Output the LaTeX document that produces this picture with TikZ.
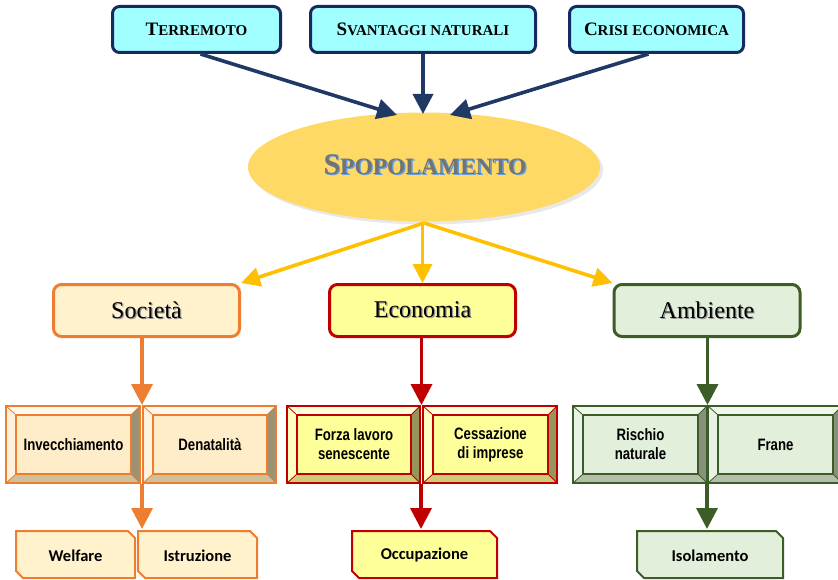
\documentclass[tikz,border=0pt]{standalone}
\usepackage{fontspec}
\setmainfont{Liberation Serif}
\newfontfamily\nbfont[FakeStretch=0.8]{Liberation Sans}
\newfontfamily\calfont{Carlito}
\usetikzlibrary{arrows.meta,shadows,shapes.geometric}

\definecolor{navyB}{RGB}{22,42,95}
\definecolor{navyA}{RGB}{31,56,100}
\definecolor{cyanF}{RGB}{162,255,255}
\definecolor{ellF}{RGB}{255,217,102}
\definecolor{yelA}{RGB}{255,192,0}
\definecolor{spopGray}{RGB}{115,115,115}
\definecolor{spopBlue}{RGB}{100,160,225}
\definecolor{shGray}{RGB}{150,150,150}
% orange set
\definecolor{Oline}{RGB}{237,125,49}
\definecolor{Ocat}{RGB}{255,242,204}
\definecolor{Oin}{RGB}{255,236,200}
\definecolor{Otop}{RGB}{255,248,236}
\definecolor{Oleft}{RGB}{255,243,222}
\definecolor{Oright}{RGB}{157,145,115}
\definecolor{Obot}{RGB}{205,193,155}
% red set
\definecolor{Rline}{RGB}{192,0,0}
\definecolor{Rcat}{RGB}{255,255,153}
\definecolor{Rin}{RGB}{255,255,153}
\definecolor{Rtop}{RGB}{255,255,215}
\definecolor{Rleft}{RGB}{255,255,195}
\definecolor{Rright}{RGB}{150,150,90}
\definecolor{Rbot}{RGB}{205,205,120}
% green set
\definecolor{Gline}{RGB}{60,92,40}
\definecolor{Gcat}{RGB}{226,239,218}
\definecolor{Gin}{RGB}{226,239,218}
\definecolor{Gtop}{RGB}{242,247,238}
\definecolor{Gleft}{RGB}{233,242,228}
\definecolor{Gright}{RGB}{135,145,125}
\definecolor{Gbot}{RGB}{180,190,170}

\newcommand\sccap[2]{{\fontsize{19}{19}\selectfont #1}{\fontsize{15}{15}\selectfont #2}}
\newcommand\shadowed[3]{\leavevmode\rlap{\kern#2\raisebox{-#2}{\textcolor{#3}{#1}}}#1}

\newcommand\bevelbox[7]{%
  \fill[#6top] (#2,#3) -- (#4,#3) -- (#4-9,#3+9) -- (#2+10,#3+9) -- cycle;
  \fill[#6left] (#2,#3) -- (#2+10,#3+9) -- (#2+10,#5-9) -- (#2,#5) -- cycle;
  \fill[#6right] (#4,#3) -- (#4,#5) -- (#4-9,#5-9) -- (#4-9,#3+9) -- cycle;
  \fill[#6bot] (#2,#5) -- (#4,#5) -- (#4-9,#5-9) -- (#2+10,#5-9) -- cycle;
  \draw[#6line, line width=0.8pt] (#2,#3) -- (#2+10,#3+9) (#4,#3) -- (#4-9,#3+9)
       (#2,#5) -- (#2+10,#5-9) (#4,#5) -- (#4-9,#5-9);
  \draw[#6line, line width=1.6pt] (#2,#3) rectangle (#4,#5);
  \draw[#6line, line width=2.2pt, fill=#6in] (#2+10,#3+9) rectangle (#4-9,#5-9);
  \node[bevtext] (#1) at ({(#2+#4+1)/2},{(#3+#5)/2}) {#7};
}
\newcommand\snipbox[7]{%
  \draw[#6line, line width=2pt, fill=#6cat, line join=miter]
    (#2,#3) -- (#4-7,#3) -- (#4,#3+7) -- (#4,#5) -- (#2+7,#5) -- (#2,#5-7) -- cycle;
  \node[sniptext] (#1) at ({(#2+#4)/2},{(#3+#5)/2+1}) {#7};
}

\begin{document}
\begin{tikzpicture}[x=1pt,y=-1pt,
  topbox/.style={draw=navyB, line width=3pt, fill=cyanF, rounded corners=7pt,
     minimum height=46pt, inner sep=0pt, font=\bfseries, text=black},
  catbox/.style={line width=3pt, rounded corners=8pt, minimum width=186pt,
     minimum height=52pt, inner sep=0pt, font=\fontsize{24}{24}\selectfont},
  bevtext/.style={font=\nbfont\bfseries\fontsize{16.5}{19}\selectfont, align=center, inner sep=0pt},
  sniptext/.style={font=\calfont\bfseries\fontsize{16.5}{16.5}\selectfont, inner sep=0pt},
  navyarr/.style={draw=navyA, line width=3.6pt, -{Triangle[length=20pt,width=20pt]}},
  yelarr/.style={draw=yelA, line width=3.6pt, -{Triangle[length=19pt,width=19pt]}},
  colarr/.style={draw=#1, line width=3.6pt, -{Triangle[length=21pt,width=21pt]}}
]
\useasboundingbox (0,0) rectangle (838,580);
\clip (0,0) rectangle (838,580);

% top boxes
\node[topbox, minimum width=168pt] (terr) at (196.5,29.5) {\sccap{T}{ERREMOTO}};
\node[topbox, minimum width=225pt] (svan) at (423,29.5) {\sccap{S}{VANTAGGI NATURALI}};
\node[topbox, minimum width=174pt] (cris) at (656.5,29.5) {\sccap{C}{RISI ECONOMICA}};

% ellipse
\node[ellipse, fill=ellF, minimum width=352pt, minimum height=109pt, inner sep=0pt,
      drop shadow={opacity=0.18, shadow xshift=3pt, shadow yshift=-3pt}] (spop) at (424,167) {};
\node[text=spopGray, inner sep=0pt, font=\bfseries] (spoptext) at (425,165)
  {\shadowed{{\fontsize{30}{30}\selectfont S}{\fontsize{23.5}{23.5}\selectfont POPOLAMENTO}}{1.4pt}{spopBlue}};

% arrows into the ellipse
\coordinate (in1) at (397,115);
\coordinate (in2) at (423,114);
\coordinate (in3) at (450,115);
\draw[navyarr] ([xshift=4pt]terr.south) -- (in1);
\draw[navyarr] (svan.south) -- (in2);
\draw[navyarr] ([xshift=-8pt]cris.south) -- (in3);

% categories
\node[catbox, draw=Oline, fill=Ocat] (soc) at (146.5,310.5) {\shadowed{Società}{1.3pt}{shGray}};
\node[catbox, draw=Rline, fill=Rcat] (eco) at (422.5,310.5) {\shadowed{Economia}{1.3pt}{shGray}};
\node[catbox, draw=Gline, fill=Gcat] (amb) at (707,310.5) {\shadowed{Ambiente}{1.3pt}{shGray}};

\coordinate (ys) at (424,223);
\draw[yelarr] (ys) -- (soc.north east);
\draw[yelarr] (ys -| eco.north) -- (eco.north);
\draw[yelarr] (ys) -- (amb.north west);

% bevel boxes
\bevelbox{inv}{6}{406}{140}{483}{O}{Invecchiamento}
\bevelbox{den}{143}{406}{276}{483}{O}{Denatalità}
\bevelbox{forza}{287}{406}{420}{483}{R}{Forza lavoro\\senescente}
\bevelbox{cess}{423}{406}{557}{483}{R}{Cessazione\\di imprese}
\bevelbox{risc}{573}{406}{707}{483}{G}{Rischio\\naturale}
\bevelbox{frane}{708}{406}{842}{483}{G}{Frane}

\coordinate (j1) at (142,405);
\coordinate (j2) at (421.5,405);
\coordinate (j3) at (707.5,405);
\draw[colarr=Oline] (soc.south -| j1) -- (j1);
\draw[colarr=Rline] (eco.south -| j2) -- (j2);
\draw[colarr=Gline] (amb.south -| j3) -- (j3);

% bottom boxes
\snipbox{wel}{16}{531}{135}{578}{O}{Welfare}
\snipbox{istr}{138}{531}{257}{578}{O}{Istruzione}
\snipbox{occ}{352}{531}{497}{578}{R}{Occupazione}
\snipbox{iso}{637}{531}{783}{578}{G}{Isolamento}

\coordinate (k1) at (142,484);
\coordinate (k2) at (421,484);
\coordinate (k3) at (707,484);
\coordinate (b1) at (142,529);
\coordinate (b2) at (421,529);
\coordinate (b3) at (707,529);
\draw[colarr=Oline] (k1) -- (b1);
\draw[colarr=Rline] (k2) -- (b2);
\draw[colarr=Gline] (k3) -- (b3);
\end{tikzpicture}
\end{document}
